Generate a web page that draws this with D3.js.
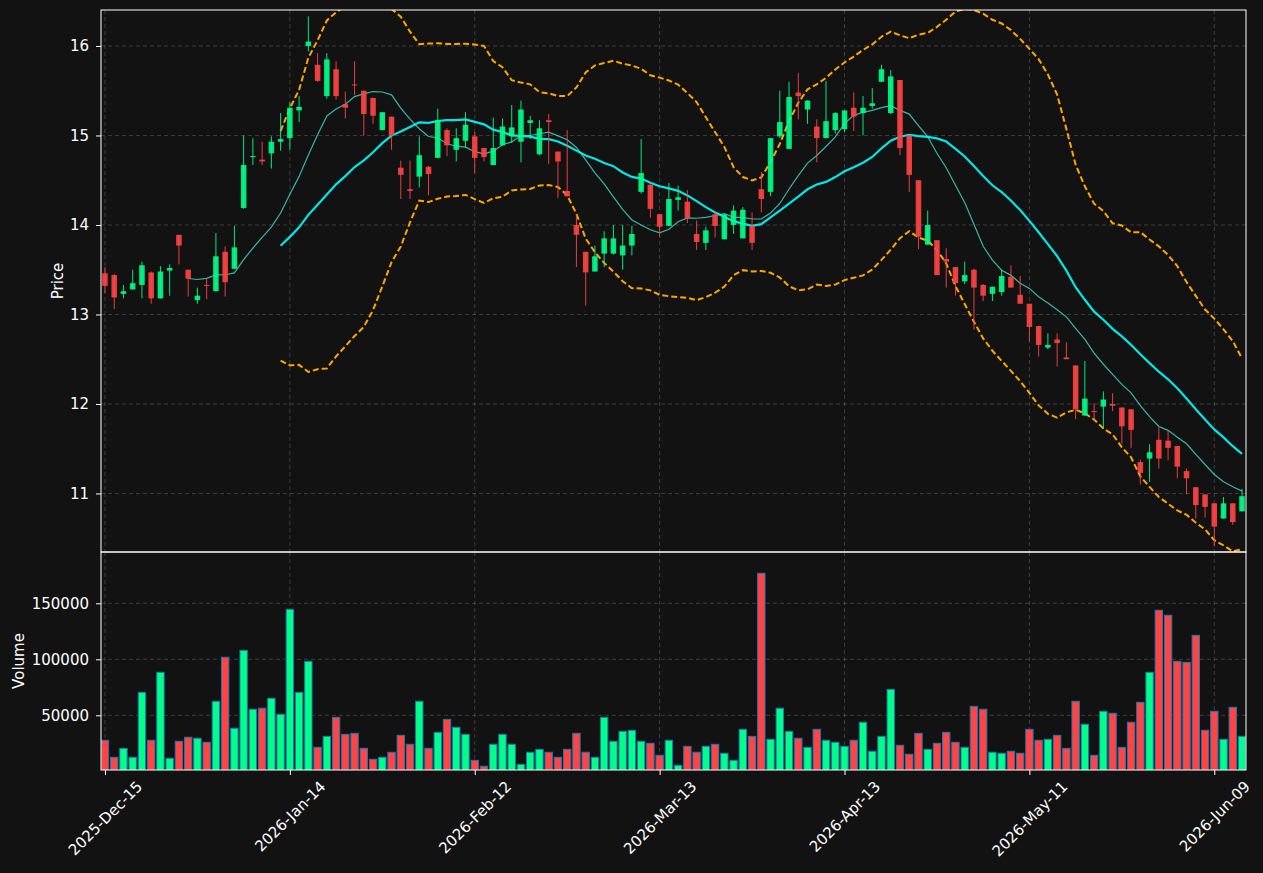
<!DOCTYPE html>
<html>
<head>
<meta charset="utf-8">
<title>Candlestick with volume</title>
<style>
    html, body { margin: 0; padding: 0; background: #121212; }
    svg text { font-family: "DejaVu Sans", sans-serif; fill: #ffffff; }
</style>
<script src="https://d3js.org/d3.v7.min.js"></script>
</head>
<body>
<svg id="chart"></svg>
<script>
// trading days (index based x axis)
const dates = [
 "2025-12-15","2025-12-16","2025-12-17","2025-12-18","2025-12-19","2025-12-22","2025-12-23","2025-12-24","2025-12-26","2025-12-29",
 "2025-12-30","2025-12-31","2026-01-02","2026-01-05","2026-01-06","2026-01-07","2026-01-08","2026-01-09","2026-01-12","2026-01-13",
 "2026-01-14","2026-01-15","2026-01-16","2026-01-20","2026-01-21","2026-01-22","2026-01-23","2026-01-26","2026-01-27","2026-01-28",
 "2026-01-29","2026-01-30","2026-02-02","2026-02-03","2026-02-04","2026-02-05","2026-02-06","2026-02-09","2026-02-10","2026-02-11",
 "2026-02-12","2026-02-13","2026-02-17","2026-02-18","2026-02-19","2026-02-20","2026-02-23","2026-02-24","2026-02-25","2026-02-26",
 "2026-02-27","2026-03-02","2026-03-03","2026-03-04","2026-03-05","2026-03-06","2026-03-09","2026-03-10","2026-03-11","2026-03-12",
 "2026-03-13","2026-03-16","2026-03-17","2026-03-18","2026-03-19","2026-03-20","2026-03-23","2026-03-24","2026-03-25","2026-03-26",
 "2026-03-27","2026-03-30","2026-03-31","2026-04-01","2026-04-02","2026-04-06","2026-04-07","2026-04-08","2026-04-09","2026-04-10",
 "2026-04-13","2026-04-14","2026-04-15","2026-04-16","2026-04-17","2026-04-20","2026-04-21","2026-04-22","2026-04-23","2026-04-24",
 "2026-04-27","2026-04-28","2026-04-29","2026-04-30","2026-05-01","2026-05-04","2026-05-05","2026-05-06","2026-05-07","2026-05-08",
 "2026-05-11","2026-05-12","2026-05-13","2026-05-14","2026-05-15","2026-05-18","2026-05-19","2026-05-20","2026-05-21","2026-05-22",
 "2026-05-26","2026-05-27","2026-05-28","2026-05-29","2026-06-01","2026-06-02","2026-06-03","2026-06-04","2026-06-05","2026-06-08",
 "2026-06-09","2026-06-10","2026-06-11","2026-06-12"
];

const opens = [
 13.46,13.44,13.23,13.28,13.33,13.47,13.18,13.49,13.89,13.50,
 13.16,13.33,13.26,13.70,13.51,14.19,14.76,14.73,14.80,14.93,
 14.97,15.28,16.00,15.79,15.44,15.74,15.35,15.57,15.50,15.42,
 15.06,15.21,14.64,14.40,14.54,14.65,14.75,15.06,14.84,14.94,
 14.99,14.86,14.67,14.89,14.99,14.93,15.14,14.79,15.17,14.82,
 14.38,14.00,13.70,13.48,13.68,13.68,13.66,13.77,14.37,14.45,
 14.12,13.99,14.28,14.26,13.90,13.80,14.12,13.84,14.00,13.85,
 13.99,14.40,14.37,14.99,14.85,15.48,15.29,15.10,14.97,15.06,
 15.07,15.31,15.25,15.33,15.60,15.25,15.62,15.00,14.50,13.78,
 13.83,13.62,13.53,13.37,13.50,13.33,13.23,13.25,13.42,13.22,
 13.12,12.87,12.63,12.72,12.52,12.43,11.87,11.92,11.97,12.00,
 11.96,11.94,11.35,11.39,11.60,11.59,11.53,11.25,11.07,10.99,
 10.89,10.72,10.89,10.80
];
const highs = [
 13.53,13.45,13.33,13.50,13.59,13.48,13.54,13.56,13.89,13.50,
 13.30,13.40,13.91,13.76,13.99,15.00,14.97,14.93,14.99,15.25,
 15.37,15.44,16.33,15.92,15.92,15.83,15.49,15.83,15.50,15.42,
 15.26,15.21,14.72,14.72,14.99,14.66,15.30,15.08,15.08,15.26,
 15.04,14.86,15.20,15.19,15.34,15.39,15.22,15.17,15.24,14.82,
 15.06,14.11,13.70,13.77,13.93,14.00,14.00,13.99,14.96,14.45,
 14.12,14.47,14.44,14.39,14.05,13.98,14.14,14.12,14.22,14.20,
 14.14,14.59,14.97,15.50,15.60,15.70,15.39,15.18,15.61,15.26,
 15.28,15.48,15.44,15.53,15.79,15.73,15.62,15.00,14.50,14.16,
 13.83,13.74,13.53,13.59,13.51,13.34,13.31,13.50,13.55,13.43,
 13.12,12.87,12.79,12.79,12.69,12.43,12.48,12.01,12.14,12.12,
 11.96,11.94,11.38,11.55,11.74,11.70,11.53,11.28,11.07,10.99,
 10.89,10.96,10.89,11.05
];
const lows = [
 13.24,13.06,13.18,13.28,13.18,13.12,13.18,13.21,13.56,13.20,
 13.12,13.17,13.26,13.20,13.51,14.18,14.67,14.67,14.63,14.83,
 14.84,15.15,15.94,15.60,15.41,15.40,15.19,15.45,15.00,15.13,
 15.06,14.84,14.29,14.29,14.42,14.33,14.75,14.77,14.71,14.87,
 14.58,14.71,14.67,14.89,14.92,14.70,14.96,14.78,14.68,14.30,
 14.32,13.53,13.10,13.48,13.53,13.67,13.50,13.66,14.35,14.08,
 13.87,13.99,14.16,14.02,13.72,13.72,13.86,13.84,13.90,13.85,
 13.72,14.14,14.32,14.97,14.85,15.18,15.13,14.70,14.97,15.02,
 15.04,15.05,15.00,15.30,15.60,15.24,14.78,14.37,13.73,13.78,
 13.44,13.30,13.21,13.34,12.83,13.15,13.15,13.21,13.30,13.12,
 12.70,12.53,12.61,12.42,12.50,11.83,11.87,11.81,11.72,11.92,
 11.56,11.51,11.10,11.13,11.28,11.37,11.17,10.99,10.72,10.73,
 10.41,10.72,10.65,10.80
];
const closes = [
 13.32,13.19,13.26,13.35,13.55,13.18,13.48,13.52,13.77,13.40,
 13.21,13.32,13.65,13.36,13.75,14.67,14.77,14.71,14.93,14.96,
 15.31,15.32,16.05,15.61,15.85,15.44,15.31,15.56,15.24,15.22,
 15.26,15.00,14.56,14.38,14.78,14.57,15.17,14.89,14.97,15.12,
 14.75,14.76,14.86,15.10,15.09,15.29,15.17,15.08,15.15,14.71,
 14.32,13.89,13.47,13.65,13.85,13.85,13.77,13.90,14.58,14.18,
 13.98,14.29,14.31,14.08,13.81,13.94,13.99,14.12,14.16,14.17,
 13.80,14.29,14.97,15.15,15.43,15.44,15.39,14.97,15.16,15.25,
 15.28,15.21,15.31,15.36,15.74,15.66,14.86,14.56,13.87,14.00,
 13.44,13.59,13.35,13.44,13.30,13.21,13.31,13.43,13.30,13.12,
 12.86,12.66,12.66,12.68,12.50,11.94,12.06,11.91,12.05,11.98,
 11.75,11.71,11.23,11.46,11.39,11.51,11.30,11.17,10.87,10.85,
 10.63,10.89,10.68,10.97
];
const volumes = [
 27700,12500,20500,12500,70500,27700,88400,11600,26800,30400,
 29500,25900,62500,101800,38400,108000,55400,56300,65200,50900,
 144600,70500,98200,21400,31200,48200,33000,33900,20500,10700,
 12500,17000,32100,24100,62500,20500,34800,46400,39300,33000,
 9800,4500,24100,33000,24100,6200,17000,19600,17000,12500,
 19600,33900,17000,12500,48200,26800,35700,36600,26800,25000,
 14300,27700,5400,22300,17000,22300,24100,16100,9800,37500,
 31200,176800,28600,56300,35700,29500,21400,37500,27700,25900,
 22300,27700,43800,17900,31200,73200,23200,15200,33900,19600,
 25000,34800,25900,21400,58000,55400,17000,16100,17900,16100,
 37500,27700,28600,32100,20500,62500,42000,14300,53600,51800,
 21400,43800,61600,88400,143800,139300,98200,97300,121400,36600,
 53600,28600,57100,31200
];

const priceTicks = [11, 12, 13, 14, 15, 16];
const volumeTicks = [50000, 100000, 150000];
const dateTickIdx = [0, 20, 40, 60, 80, 100, 120];

const W = 1263, H = 873;
const L = 101, R = 1246, pTop = 10, pBot = 552, vBot = 770;
const upColor = "#00ff88", downColor = "#ff4444";
const fontPx = 15;

const svg = d3.select("#chart").attr("width", W).attr("height", H);
svg.append("rect").attr("width", W).attr("height", H).attr("fill", "#121212");

const n = closes.length;
const x = d3.scaleLinear().domain([-0.43, n - 1 + 0.43]).range([L, R]);
const yP = d3.scaleLinear().domain([10.346, 16.402]).range([pBot, pTop]);
const yV = d3.scaleLinear().domain([0, 195800]).range([771.3, pBot]);
const step = x(1) - x(0);

const defs = svg.append("defs");
defs.append("clipPath").attr("id", "clipP").append("rect")
    .attr("x", L).attr("y", pTop).attr("width", R - L).attr("height", pBot - pTop);
defs.append("clipPath").attr("id", "clipV").append("rect")
    .attr("x", L).attr("y", pBot).attr("width", R - L).attr("height", vBot - pBot);

// grid
const grid = svg.append("g").attr("stroke", "#ffffff").attr("stroke-opacity", 0.18)
    .attr("stroke-dasharray", "4,3").attr("stroke-width", 1);
priceTicks.forEach(t => grid.append("line").attr("x1", L).attr("x2", R)
    .attr("y1", yP(t)).attr("y2", yP(t)));
volumeTicks.forEach(t => grid.append("line").attr("x1", L).attr("x2", R)
    .attr("y1", yV(t)).attr("y2", yV(t)));
dateTickIdx.forEach(i => {
    grid.append("line").attr("x1", x(i)).attr("x2", x(i)).attr("y1", pTop).attr("y2", pBot);
    grid.append("line").attr("x1", x(i)).attr("x2", x(i)).attr("y1", pBot).attr("y2", vBot);
});

// moving averages and bollinger bands
function rolling(k, fn) {
    return closes.map((c, i) => i < k - 1 ? null : fn(closes.slice(i - k + 1, i + 1)));
}
const ma10 = rolling(10, d3.mean);
const ma20 = rolling(20, d3.mean);
const sd20 = rolling(20, d3.deviation);
const bbUp = ma20.map((m, i) => m === null ? null : m + 2 * sd20[i]);
const bbLo = ma20.map((m, i) => m === null ? null : m - 2 * sd20[i]);

const line = d3.line().defined(d => d !== null).x((d, i) => x(i)).y(d => yP(d));
const lines = svg.append("g").attr("clip-path", "url(#clipP)").attr("fill", "none");

// candles
const candles = svg.append("g").attr("clip-path", "url(#clipP)");
const idx = d3.range(n);
candles.selectAll(".wick").data(idx).enter().append("line")
    .attr("x1", i => x(i)).attr("x2", i => x(i))
    .attr("y1", i => yP(highs[i])).attr("y2", i => yP(lows[i]))
    .attr("stroke", i => closes[i] >= opens[i] ? upColor : downColor)
    .attr("stroke-opacity", 0.9).attr("stroke-width", 1);
candles.selectAll(".body").data(idx).enter().append("rect")
    .attr("x", i => x(i) - step * 0.3)
    .attr("width", step * 0.6)
    .attr("y", i => yP(Math.max(opens[i], closes[i])))
    .attr("height", i => Math.max(1, Math.abs(yP(opens[i]) - yP(closes[i]))))
    .attr("fill", i => closes[i] >= opens[i] ? upColor : downColor)
    .attr("fill-opacity", 0.9);

lines.append("path").datum(bbUp).attr("d", line).attr("stroke", "#ffa500")
    .attr("stroke-width", 2).attr("stroke-dasharray", "6,3");
lines.append("path").datum(bbLo).attr("d", line).attr("stroke", "#ffa500")
    .attr("stroke-width", 2).attr("stroke-dasharray", "6,3");
lines.append("path").datum(ma10).attr("d", line).attr("stroke", "#40e0d0")
    .attr("stroke-opacity", 0.8).attr("stroke-width", 1.2);
lines.append("path").datum(ma20).attr("d", line).attr("stroke", "#00ffff")
    .attr("stroke-opacity", 0.9).attr("stroke-width", 2.2);

// volume
svg.append("g").attr("clip-path", "url(#clipV)")
    .selectAll("rect").data(idx).enter().append("rect")
    .attr("x", i => x(i) - step * 0.4)
    .attr("width", step * 0.8)
    .attr("y", i => yV(volumes[i]))
    .attr("height", i => yV(0) - yV(volumes[i]))
    .attr("fill", i => closes[i] >= opens[i] ? upColor : downColor)
    .attr("stroke", "#1f77b4").attr("stroke-width", 1);

// axes
function styleAxis(g) {
    g.select(".domain").remove();
    g.selectAll(".tick line").attr("stroke", "#ffffff");
    g.selectAll(".tick text").attr("fill", "#ffffff").style("font-size", fontPx + "px")
        .style("font-family", "DejaVu Sans, sans-serif");
}
svg.append("g").attr("transform", `translate(${L},0)`)
    .call(d3.axisLeft(yP).tickValues(priceTicks).tickSize(5).tickPadding(7)
        .tickFormat(d3.format("d")))
    .call(styleAxis);
svg.append("g").attr("transform", `translate(${L},0)`)
    .call(d3.axisLeft(yV).tickValues(volumeTicks).tickSize(5).tickPadding(7)
        .tickFormat(d3.format("d")))
    .call(styleAxis);

const parse = d3.timeParse("%Y-%m-%d"), fmt = d3.timeFormat("%Y-%b-%d");
const xAxis = svg.append("g").attr("transform", `translate(0,${vBot})`)
    .call(d3.axisBottom(x).tickValues(dateTickIdx).tickSize(5)
        .tickFormat(i => fmt(parse(dates[i]))))
    .call(styleAxis);
xAxis.selectAll(".tick text").each(function () {
    const t = d3.select(this);
    const len = this.getComputedTextLength();
    const half = (len + fontPx * 0.75) * Math.SQRT1_2 / 2;
    t.attr("y", null).attr("dy", null)
        .attr("text-anchor", "middle").attr("dominant-baseline", "central")
        .attr("transform", `translate(0,${10 + half}) rotate(-45)`);
});

// frames
const frame = svg.append("g").attr("fill", "none").attr("stroke", "#ffffff").attr("stroke-width", 1);
frame.append("rect").attr("x", L).attr("y", pTop).attr("width", R - L).attr("height", pBot - pTop);
frame.append("rect").attr("x", L).attr("y", pBot).attr("width", R - L).attr("height", vBot - pBot);

// axis titles
svg.append("text").attr("transform", `translate(63,${(pTop + pBot) / 2}) rotate(-90)`)
    .attr("text-anchor", "middle").style("font-size", fontPx + "px").text("Price");
svg.append("text").attr("transform", `translate(24,${(pBot + vBot) / 2}) rotate(-90)`)
    .attr("text-anchor", "middle").style("font-size", fontPx + "px").text("Volume");
</script>
</body>
</html>
